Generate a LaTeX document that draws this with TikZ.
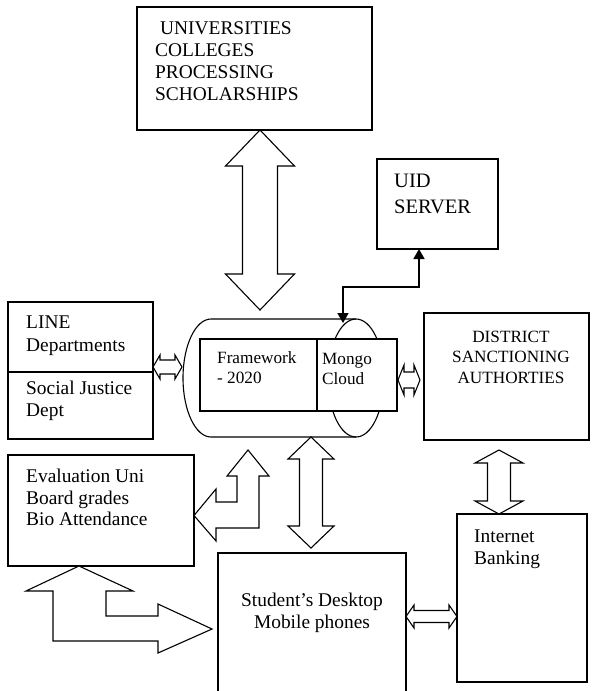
\documentclass[tikz,border=0pt]{standalone}
\usepackage{fontspec}
\setmainfont{Liberation Serif}
\usetikzlibrary{arrows.meta}
\tikzset{
  box/.style={draw, line width=1.1pt, fill=white, inner sep=0pt, outer sep=0pt, anchor=north west},
  blk/.style={draw, line width=1.1pt, fill=white, line join=miter},
  conn/.style={draw, line width=1.7pt, {Triangle[length=10pt,width=11pt]}-{Triangle[length=10pt,width=11pt]}},
  txt/.style={inner sep=0pt, anchor=base west},
  ctxt/.style={inner sep=0pt, anchor=base},
  big/.style={font=\fontsize{19.4}{22}\selectfont},
  small/.style={font=\fontsize{17.2}{20.5}\selectfont},
}
% vertical double block arrow: x, ytop, ybottom, shaft half, head half, head length
\newcommand\vdblarrow[6]{%
  \draw[blk] (#1,#2) -- (#1+#5,#2+#6) -- (#1+#4,#2+#6) -- (#1+#4,#3-#6) -- (#1+#5,#3-#6)
    -- (#1,#3) -- (#1-#5,#3-#6) -- (#1-#4,#3-#6) -- (#1-#4,#2+#6) -- (#1-#5,#2+#6) -- cycle;}
% horizontal double block arrow: y, xleft, xright, shaft half, head half, head length
\newcommand\hdblarrow[6]{%
  \draw[blk] (#2,#1) -- (#2+#6,#1-#5) -- (#2+#6,#1-#4) -- (#3-#6,#1-#4) -- (#3-#6,#1-#5)
    -- (#3,#1) -- (#3-#6,#1+#5) -- (#3-#6,#1+#4) -- (#2+#6,#1+#4) -- (#2+#6,#1+#5) -- cycle;}
\begin{document}
\begin{tikzpicture}[x=1pt, y=-1pt]
\useasboundingbox (0,0) rectangle (592,691);

% central cylinder
\draw[line width=1.1pt] (356,319) -- (211,319)
   arc[start angle=90, end angle=270, x radius=28pt, y radius=59pt] -- (356,437);
\draw[line width=1.1pt] (356,378) ellipse [x radius=28pt, y radius=59pt];
\coordinate (cyl) at (283,378);
\node[box, minimum width=117pt, minimum height=72pt] (fw) at (200,339) {};
\node[box, minimum width=80pt, minimum height=72pt] (mongo) at (317,339) {};
\node[txt, small] (fwt) at (217,363) {\begin{tabular}[t]{@{}l@{}}Framework\\- 2020\end{tabular}};
\node[txt, small] (mongot) at (322,364) {\begin{tabular}[t]{@{}l@{}}Mongo\\Cloud\end{tabular}};

% boxes
\node[box, minimum width=235pt, minimum height=123pt] (univ) at (137,7) {};
\node[txt, font=\fontsize{19.4}{22.3}\selectfont] (univt) at (155,34)
  {\begin{tabular}[t]{@{}l@{}}\hspace*{5pt}UNIVERSITIES\\COLLEGES\\PROCESSING\\SCHOLARSHIPS\end{tabular}};

\node[box, minimum width=121pt, minimum height=90pt] (uid) at (377,159) {};
\node[txt, font=\fontsize{20.5}{26}\selectfont] (uidt) at (394,187)
  {\begin{tabular}[t]{@{}l@{}}UID\\SERVER\end{tabular}};

\node[box, minimum width=145pt, minimum height=70pt] (line) at (8,302) {};
\node[box, minimum width=145pt, minimum height=67pt] (sj) at (8,372) {};
\node[txt, font=\fontsize{19.4}{23}\selectfont] (linet) at (26,328)
  {\begin{tabular}[t]{@{}l@{}}LINE\\Departments\end{tabular}};
\node[txt, big] (sjt) at (26,394)
  {\begin{tabular}[t]{@{}l@{}}Social Justice\\Dept\end{tabular}};

\node[box, minimum width=165pt, minimum height=127pt] (dist) at (424,313) {};
\node[ctxt, small] (distt) at (511,342)
  {\begin{tabular}[t]{@{}c@{}}DISTRICT\\SANCTIONING\\AUTHORTIES\end{tabular}};

\node[box, minimum width=186pt, minimum height=111pt] (eval) at (8,455) {};
\node[txt, font=\fontsize{19.4}{21.5}\selectfont] (evalt) at (26,482.5)
  {\begin{tabular}[t]{@{}l@{}}Evaluation Uni\\Board grades\\Bio Attendance\end{tabular}};

\node[box, minimum width=130pt, minimum height=168pt] (ib) at (457,514) {};
\node[txt, big] (ibt) at (474,542)
  {\begin{tabular}[t]{@{}l@{}}Internet\\Banking\end{tabular}};

\node[box, minimum width=188pt, minimum height=160pt] (stud) at (218,553) {};
\node[ctxt, big] (studt) at (312,606)
  {\begin{tabular}[t]{@{}c@{}}Student’s Desktop\\Mobile phones\end{tabular}};

% UID connector
\draw[conn] ([xshift=-18.5pt]uid.south) |- (343,287) -- (343,323);

% block arrows
\vdblarrow{260}{130}{310}{17.5}{34.5}{36}
\vdblarrow{311}{437}{548}{11.5}{23}{22}
\vdblarrow{499}{450}{514}{11.5}{24}{13}
\hdblarrow{367}{153}{182}{7}{12}{7}
\hdblarrow{380}{398}{420}{8}{15}{6}
\hdblarrow{616.5}{406}{457}{6}{11.5}{8}

% bent arrow between evaluation and cylinder
\draw[blk] (248,450) -- (269,476) -- (259,476) -- (259,528) -- (216,528) -- (216,541)
  -- (194,515.5) -- (216,489) -- (216,502) -- (237,502) -- (237,476) -- (227,476) -- cycle;
% bent arrow between evaluation and student
\draw[blk] (79,566) -- (133,591) -- (106,591) -- (106,616) -- (158,616) -- (158,604)
  -- (212,629) -- (158,653) -- (158,641) -- (53,641) -- (53,591) -- (26,591) -- cycle;
\end{tikzpicture}
\end{document}
